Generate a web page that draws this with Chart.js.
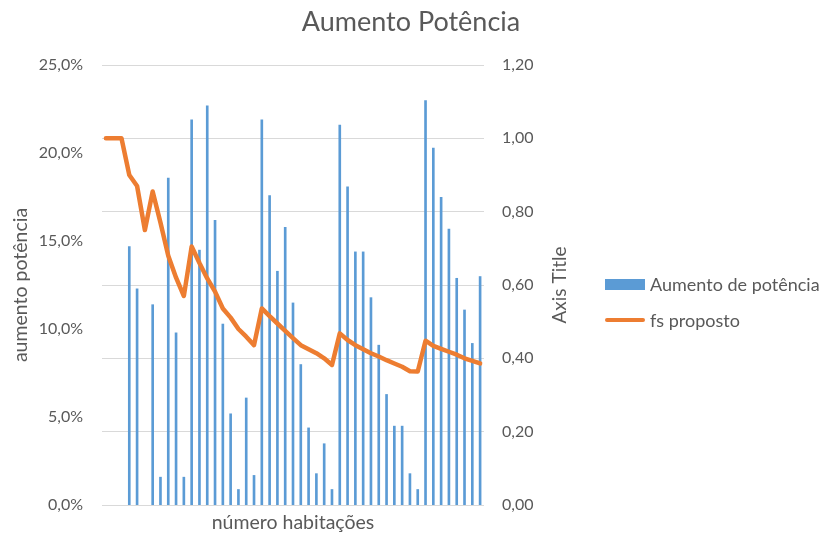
<!DOCTYPE html>
<html>
<head>
<meta charset="utf-8">
<script src="https://cdn.jsdelivr.net/npm/chart.js@4/dist/chart.umd.min.js"></script>
<style>
  html, body { margin: 0; padding: 0; background: #ffffff; }
  #wrap { position: relative; width: 822px; height: 536px; }
  canvas { display: block; }
  #legend { position: absolute; left: 605px; top: 0; font-family: Lato, "Open Sans", sans-serif; font-size: 18px; color: #595959; }
  #legend .item { position: absolute; left: 0; height: 22px; display: flex; align-items: center; white-space: nowrap; }
  #legend .sw { display: inline-block; width: 40px; margin-right: 5px; }
</style>
</head>
<body>
<div id="wrap">
  <canvas id="chart" width="822" height="536"></canvas>
  <div id="legend"></div>
</div>
<script>
// Número de habitações (categorias do eixo X, sem rótulos visíveis)
const habitacoes = ['1','2','3','4','5','6','7','8','9','10','11','12','13','14','15','16','17',
  '18','19','20','21','22','23','24','25','26','27','28','29','30','31','32','33','34','35',
  '36','37','38','39','40','41','42','43','44','45','46','47','48','49'];

// Aumento de potência, em %
const aumentoPotencia = [0, 0, 0, 14.7, 12.3, 0, 11.4, 1.6, 18.6, 9.8, 1.6, 21.9, 14.5, 22.7,
  16.2, 10.3, 5.2, 0.9, 6.1, 1.7, 21.9, 17.6, 13.3, 15.8, 11.5, 8.0, 4.4, 1.8, 3.5, 0.9,
  21.6, 18.1, 14.4, 14.4, 11.8, 9.1, 6.3, 4.5, 4.5, 1.8, 0.9, 23.0, 20.3, 17.5, 15.7, 12.9,
  11.1, 9.2, 13.0];

// Fator de simultaneidade proposto
const fsProposto = [1.00, 1.00, 1.00, 0.90, 0.87, 0.75, 0.855, 0.77, 0.68, 0.62, 0.57, 0.705,
  0.66, 0.618, 0.582, 0.536, 0.511, 0.48, 0.459, 0.436, 0.536, 0.515, 0.495, 0.475, 0.455,
  0.436, 0.425, 0.414, 0.40, 0.382, 0.468, 0.45, 0.436, 0.425, 0.414, 0.405, 0.395, 0.386,
  0.377, 0.365, 0.364, 0.448, 0.434, 0.426, 0.418, 0.41, 0.40, 0.393, 0.386];

// Marcas dos eixos
const ticksPercent = [0, 5, 10, 15, 20, 25];
const ticksFs = [0, 0.2, 0.4, 0.6, 0.8, 1.0, 1.2];

const FONT = 'Lato, "Open Sans", sans-serif';
const GREY = '#595959';
const BLUE = '#5B9BD5';
const ORANGE = '#ED7D31';

// Título do eixo secundário, lido de baixo para cima
const rightTitle = {
  id: 'rightTitle',
  afterDraw(chart, args, opts) {
    const s = chart.scales.y1;
    const ctx = chart.ctx;
    ctx.save();
    ctx.translate(s.left + opts.offset, (chart.chartArea.top + chart.chartArea.bottom) / 2);
    ctx.rotate(-Math.PI / 2);
    ctx.font = opts.size + 'px ' + FONT;
    ctx.fillStyle = GREY;
    ctx.textAlign = 'center';
    ctx.textBaseline = 'middle';
    ctx.fillText(opts.text, 0, 0);
    ctx.restore();
  }
};

const chart = new Chart(document.getElementById('chart'), {
  data: {
    labels: habitacoes,
    datasets: [
      {
        type: 'line',
        label: 'fs proposto',
        data: fsProposto,
        yAxisID: 'y1',
        borderColor: ORANGE,
        backgroundColor: ORANGE,
        borderWidth: 4.5,
        pointRadius: 0,
        tension: 0,
        borderJoinStyle: 'round',
        borderCapStyle: 'round',
        order: 0
      },
      {
        type: 'bar',
        label: 'Aumento de potência',
        data: aumentoPotencia,
        yAxisID: 'y',
        backgroundColor: BLUE,
        borderWidth: 0,
        categoryPercentage: 1,
        barPercentage: 0.34,
        order: 1
      }
    ]
  },
  options: {
    responsive: false,
    animation: false,
    events: [],
    layout: { padding: 0 },
    plugins: {
      legend: { display: false },
      tooltip: { enabled: false },
      title: {
        display: true,
        text: 'Aumento Potência',
        color: GREY,
        font: { family: FONT, size: 27, weight: 'normal' },
        padding: { top: 6, bottom: 26.6 }
      },
      rightTitle: { text: 'Axis Title', offset: 76, size: 19 }
    },
    scales: {
      x: {
        type: 'category',
        grid: { display: false, drawTicks: false },
        border: { display: false },
        ticks: { display: false },
        title: {
          display: true,
          text: 'número habitações',
          color: GREY,
          font: { family: FONT, size: 19.5 },
          padding: { top: 6, bottom: 1.5 }
        },
        afterFit(s) { s.height = 31; }
      },
      y: {
        position: 'left',
        min: 0,
        max: 25,
        afterBuildTicks(s) { s.ticks = ticksPercent.map(v => ({ value: v })); },
        grid: { display: false, drawTicks: false },
        border: { display: false },
        ticks: {
          padding: 19,
          color: GREY,
          font: { family: FONT, size: 16 },
          callback: v => v.toFixed(1).replace('.', ',') + '%'
        },
        title: {
          display: true,
          text: 'aumento potência',
          color: GREY,
          font: { family: FONT, size: 19.5 },
          padding: { top: 9, bottom: 0 }
        },
        afterFit(s) { s.width = 102; }
      },
      y1: {
        position: 'right',
        min: 0,
        max: 1.2,
        afterBuildTicks(s) { s.ticks = ticksFs.map(v => ({ value: v })); },
        grid: { display: true, color: '#D9D9D9', lineWidth: 1, drawTicks: false },
        border: { display: false },
        ticks: {
          padding: 18,
          color: GREY,
          font: { family: FONT, size: 16 },
          callback: v => v.toFixed(2).replace('.', ',')
        },
        afterFit(s) { s.width = 338; }
      }
    }
  },
  plugins: [rightTitle]
});

// Legenda em HTML a partir dos conjuntos de dados
const legend = document.getElementById('legend');
const legendRows = [
  { ds: chart.data.datasets[1], center: 284 },
  { ds: chart.data.datasets[0], center: 320 }
];
legendRows.forEach(({ ds, center }) => {
  const item = document.createElement('div');
  item.className = 'item';
  item.style.top = (center - 11) + 'px';
  const sw = document.createElement('span');
  sw.className = 'sw';
  if (ds.type === 'bar') {
    sw.style.height = '11px';
    sw.style.background = ds.backgroundColor;
  } else {
    sw.style.height = '4px';
    sw.style.borderRadius = '2px';
    sw.style.background = ds.borderColor;
  }
  const txt = document.createElement('span');
  txt.textContent = ds.label;
  item.appendChild(sw);
  item.appendChild(txt);
  legend.appendChild(item);
});
</script>
</body>
</html>
